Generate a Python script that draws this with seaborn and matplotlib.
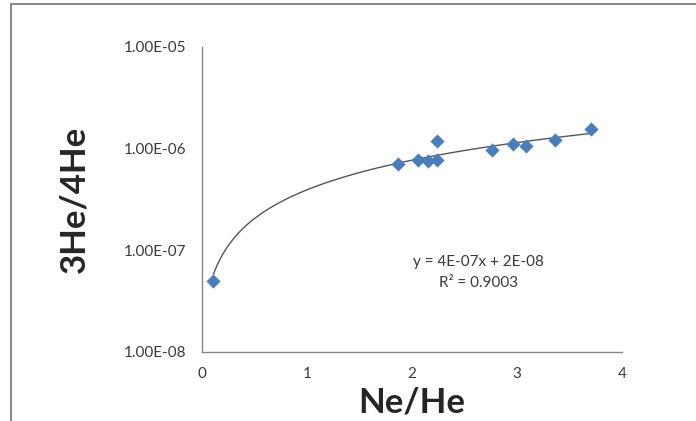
import numpy as np
import pandas as pd
import seaborn as sns
import matplotlib.pyplot as plt
from matplotlib.ticker import FixedLocator, FuncFormatter, NullLocator
from matplotlib.lines import Line2D

# 数据 (Ne/He, 3He/4He)
ne_he = [0.11, 1.865, 2.054, 2.155, 2.235, 2.241, 2.758, 2.958, 3.084, 3.363, 3.705]
he_ratio = [5.0e-8, 7.1e-7, 7.8e-7, 7.55e-7, 7.8e-7, 1.19e-6, 9.8e-7, 1.10e-6, 1.07e-6, 1.22e-6, 1.55e-6]
x_ticks = [0, 1, 2, 3, 4]
y_ticks = [1e-8, 1e-7, 1e-6, 1e-5]
eq_text = "y = 4E-07x + 2E-08"
r2_text = "R² = 0.9003"

df = pd.DataFrame({"Ne/He": ne_he, "3He/4He": he_ratio})

sns.set_style("white")
plt.rcParams['font.family'] = ['Lato', 'DejaVu Sans']

fig = plt.figure(figsize=(6.96, 4.21), dpi=100)
ax = fig.add_axes([0.2898, 0.1639, 0.6043, 0.7245])

# 线性趋势线
coef = np.polyfit(df["Ne/He"], df["3He/4He"], 1)
xs = np.linspace(min(ne_he), max(ne_he), 200)
ax.plot(xs, np.polyval(coef, xs), color="#555555", lw=1.0, zorder=2)

sns.scatterplot(data=df, x="Ne/He", y="3He/4He", marker="D", s=52,
                color="#4a7ebb", linewidth=0, ax=ax, zorder=3)

ax.set_yscale("log")
ax.set_xlim(0, 4)
ax.set_ylim(1e-8, 1e-5)
ax.xaxis.set_major_locator(FixedLocator(x_ticks))
ax.yaxis.set_major_locator(FixedLocator(y_ticks))
ax.yaxis.set_minor_locator(NullLocator())
ax.yaxis.set_major_formatter(FuncFormatter(lambda v, p: f"{v:.2E}"))
ax.tick_params(axis="both", direction="out", length=5, width=1, color="#868686",
               labelsize=11, labelcolor="#3a3a3a", pad=6)

for s in ["top", "right"]:
    ax.spines[s].set_visible(False)
for s in ["left", "bottom"]:
    ax.spines[s].set_color("#868686")
    ax.spines[s].set_linewidth(1)

ax.set_xlabel("Ne/He", fontsize=25, fontweight="bold", labelpad=4)
ax.set_ylabel("3He/4He", fontsize=25, fontweight="bold", labelpad=24)

ax.text(0.659, 0.295, eq_text, transform=ax.transAxes, ha="center", va="center",
        fontsize=11, color="#3a3a3a")
ax.text(0.659, 0.226, r2_text, transform=ax.transAxes, ha="center", va="center",
        fontsize=11, color="#3a3a3a")

# 外框 (只看得到左边和上边)
fig.add_artist(Line2D([0.016, 0.016], [0, 0.99], transform=fig.transFigure,
                      color="#8c8c8c", lw=1.5))
fig.add_artist(Line2D([0.016, 1.0], [0.99, 0.99], transform=fig.transFigure,
                      color="#8c8c8c", lw=1.5))

plt.savefig("out.png", dpi=100)
